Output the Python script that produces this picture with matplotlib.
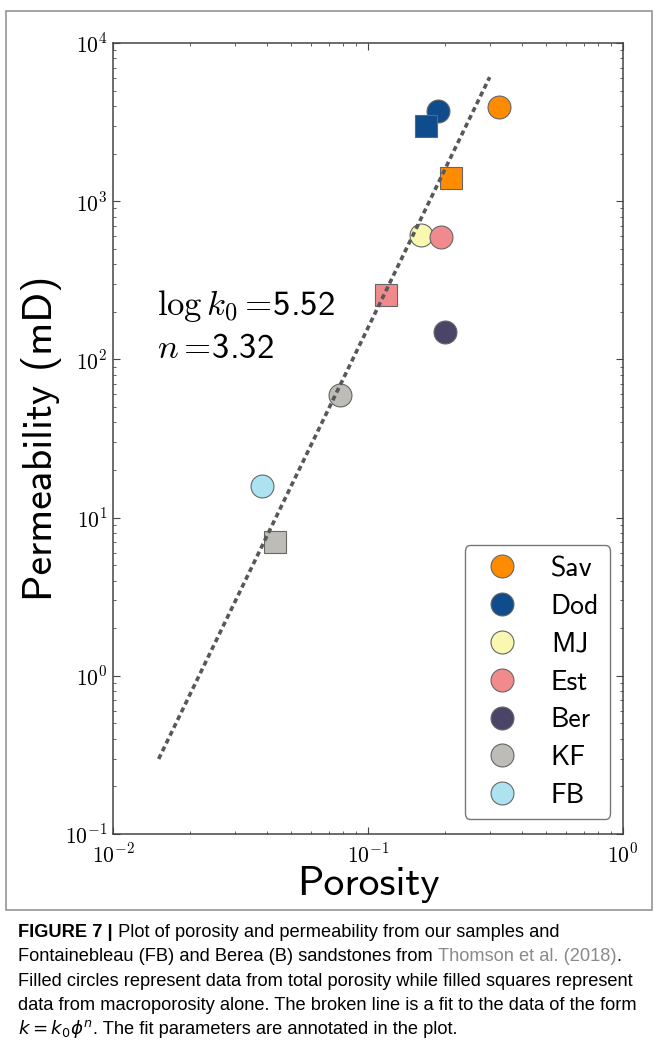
import matplotlib
matplotlib.use('Agg')
import matplotlib.pyplot as plt
from matplotlib import font_manager, ticker
from matplotlib.transforms import IdentityTransform
from matplotlib.patches import Rectangle
from matplotlib.lines import Line2D
import numpy as np

W, H, DPI = 655, 1054, 100

plt.rcParams['mathtext.fontset'] = 'cm'
plt.rcParams['font.family'] = ['cmss10', 'DejaVu Sans']
plt.rcParams['axes.unicode_minus'] = False

# values
samples = ['Sav', 'Dod', 'MJ', 'Est', 'Ber', 'KF', 'FB']
colors = ['#ff8c00', '#0f4c8c', '#f9f8b0', '#f08a8d', '#4a4467', '#bdbcb6', '#ade3f1']

# total porosity (circles)
phi_total = [0.327, 0.188, 0.161, 0.193, 0.200, 0.0777, 0.0384]
k_total = [3940, 3720, 611, 594, 149, 59.6, 15.8]

# macroporosity (squares)
sq_samples = ['Sav', 'Dod', 'Est', 'KF']
phi_macro = [0.212, 0.169, 0.1177, 0.0432]
k_macro = [1400, 2990, 255, 7.0]

# fit k = k0 * phi^n
log_k0 = 5.52
n_exp = 3.32
phi_fit_range = [0.0151, 0.30]

caption_lines = [
    [('FIGURE 7 |', {'weight': 'bold'}), (' Plot of porosity and permeability from our samples and', {})],
    [('Fontainebleau (FB) and Berea (B) sandstones from ', {}), ('Thomson et al. (2018)', {'color': '#8a8a8a'}), ('.', {})],
    [('Filled circles represent data from total porosity while filled squares represent', {})],
    [('data from macroporosity alone. The broken line is a fit to the data of the form', {})],
    [(r'$k = k_0\phi^n$', {}), ('. The fit parameters are annotated in the plot.', {})],
]

fig = plt.figure(figsize=(W / DPI, H / DPI), dpi=DPI)
ax = fig.add_axes([113 / W, 1 - 834 / H, 510 / W, 791 / H])
ax.set_xscale('log')
ax.set_yscale('log')

mk = dict(ms=16.5, mec='#666666', mew=0.8, ls='none')
for name, c, p, k in zip(samples, colors, phi_total, k_total):
    ax.plot(p, k, marker='o', mfc=c, zorder=3, **mk)
for name, p, k in zip(sq_samples, phi_macro, k_macro):
    c = colors[samples.index(name)]
    ax.plot(p, k, marker='s', mfc=c, zorder=4, **mk)

phi_line = np.array(phi_fit_range)
k_line = 10 ** log_k0 * phi_line ** n_exp
ax.plot(phi_line, k_line, color='#585858', lw=2.6, ls=(0, (1.4, 1.0)), zorder=5)

ax.set_xlim(1e-2, 1)
ax.set_ylim(1e-1, 1e4)

decade_fmt = ticker.FuncFormatter(lambda v, pos: r'$10^{%d}$' % round(np.log10(v)))
for axis in (ax.xaxis, ax.yaxis):
    axis.set_major_formatter(decade_fmt)
    axis.set_minor_formatter(ticker.NullFormatter())

for s in ax.spines.values():
    s.set_color('#444444')
    s.set_linewidth(1.1)
ax.tick_params(which='both', direction='in', top=True, right=True, colors='#444444',
               labelcolor='black', labelsize=15.5)
ax.tick_params(axis='y', pad=4)
ax.tick_params(axis='x', pad=6)
ax.tick_params(which='major', length=5, width=0.8)
ax.tick_params(which='minor', length=2.5, width=0.6)

ax.set_xlabel('Porosity', fontsize=30, labelpad=0)
ax.set_ylabel('Permeability (mD)', fontsize=30, labelpad=2)

ax.text(0.086, 0.656, r'$\log k_0 =\!$5.52', transform=ax.transAxes, fontsize=25, va='baseline')
ax.text(0.086, 0.602, r'$n =\!$3.32', transform=ax.transAxes, fontsize=25, va='baseline')

handles = [Line2D([], [], marker='o', mfc=c, **mk) for c in colors]
leg = ax.legend(handles, samples, loc='lower right', bbox_to_anchor=(0.975, 0.019),
                borderaxespad=0, fontsize=20, labelspacing=0.46, handlelength=1.87,
                handletextpad=0.83, borderpad=0.4, fancybox=True, framealpha=1)
leg.get_frame().set_edgecolor('#777777')
leg.get_frame().set_linewidth(1.0)

# outer frame around the plot panel
fig.patches.append(Rectangle((6, H - 910), 646, 899, transform=IdentityTransform(),
                             fill=False, edgecolor='#8c8c8c', lw=1.1))

# caption
cap_font = 'Liberation Sans Narrow'
try:
    font_manager.findfont(cap_font, fallback_to_default=False)
except ValueError:
    cap_font = 'Liberation Sans'

r = fig.canvas.get_renderer()


def text_width(s, size, **kw):
    t = fig.text(0, 0, s + '|', fontsize=size, family=cap_font, transform=IdentityTransform(),
                 math_fontfamily='dejavusans', **kw)
    bar = fig.text(0, 0, '|', fontsize=size, family=cap_font, transform=IdentityTransform())
    w = t.get_window_extent(r).width - bar.get_window_extent(r).width
    t.remove()
    bar.remove()
    return w


cap_size = 10 * 618 / text_width(caption_lines[2][0][0], 10)
baselines = [937, 961, 986, 1010, 1034]
for line, yb in zip(caption_lines, baselines):
    x = 18
    for s, kw in line:
        fig.text(x, H - yb, s, fontsize=cap_size, family=cap_font, va='baseline',
                 transform=IdentityTransform(), math_fontfamily='dejavusans', **kw)
        x += text_width(s, cap_size, **kw)

fig.savefig('out.png', dpi=DPI)
